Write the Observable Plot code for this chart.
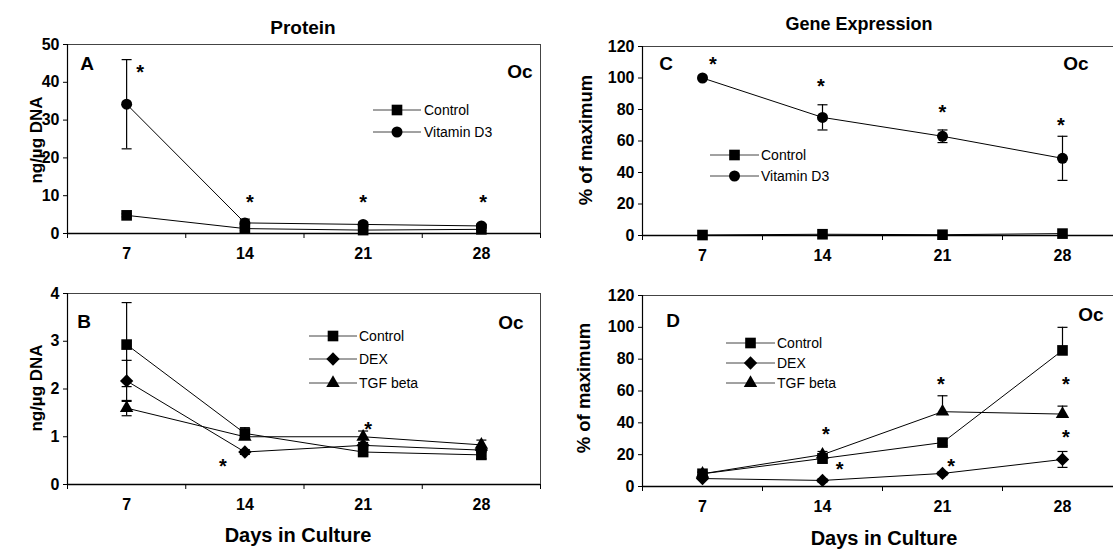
<!DOCTYPE html>
<html><head><meta charset="utf-8">
<script src="https://cdn.jsdelivr.net/npm/d3@7"></script>
<script src="https://cdn.jsdelivr.net/npm/@observablehq/plot@0.6"></script>
<style>
html,body{margin:0;padding:0;background:#fff;overflow:hidden;}
#fig{position:relative;width:1113px;height:550px;overflow:hidden;font-family:Arial,"Liberation Sans",Helvetica,sans-serif;color:#000;}
.abs{position:absolute;white-space:nowrap;line-height:1;}
.ctr{transform:translate(-50%,-50%);}
.rot{transform:translate(-50%,-50%) rotate(-90deg);}
.lft{transform:translate(0,-50%);}
.b{font-weight:bold;}
</style></head><body><div id="fig"></div>
<script>
// ---------- data ----------
const days = [7, 14, 21, 28];
const boundaries = [3.5, 10.5, 17.5, 24.5, 31.5];

// Panel A (Protein, ng/µg DNA)
const aTicks = [0, 10, 20, 30, 40, 50];
const aControl = [4.8, 1.3, 0.9, 1.1];
const aControlErr = [0.4, 0.5, 0.3, 0.3];
const aVitD3 = [34.2, 2.8, 2.4, 2.0];
const aVitD3Err = [11.8, 1.0, 0.6, 0.5];
const aStarDays = [7.8, 14.3, 21.0, 28.1];
const aStarValues = [44, 9.6, 9.6, 9.6];

// Panel B (Protein, ng/µg DNA)
const bTicks = [0, 1, 2, 3, 4];
const bControl = [2.93, 1.07, 0.68, 0.62];
const bControlErr = [0.88, 0.12, 0.06, 0.08];
const bDex = [2.17, 0.68, 0.82, 0.72];
const bDexErr = [0.43, 0.05, 0.05, 0.05];
const bTgf = [1.60, 1.00, 1.00, 0.83];
const bTgfErr = [0.16, 0.05, 0.12, 0.10];
const bStarDays = [12.7, 21.3];
const bStarValues = [0.48, 1.26];

// Panel C (Gene expression, % of maximum)
const cTicks = [0, 20, 40, 60, 80, 100, 120];
const cControl = [0.3, 0.8, 0.5, 1.2];
const cControlErr = [0, 0, 0, 0];
const cVitD3 = [100, 75, 63, 49];
const cVitD3Err = [0, 8, 4, 14];
const cStarDays = [7.6, 13.9, 21.0, 27.9];
const cStarValues = [112, 98, 81, 73];

// Panel D (Gene expression, % of maximum)
const dTicks = [0, 20, 40, 60, 80, 100, 120];
const dControl = [8, 17.6, 27.6, 85.5];
const dControlErrHi = [1, 3, 2, 14.5];
const dControlErrLo = [1, 3, 2, 0];
const dDex = [5, 3.8, 8.2, 17];
const dDexErr = [0.5, 1, 1, 5];
const dTgf = [8, 20, 47, 45.5];
const dTgfErrHi = [1, 2, 10, 5];
const dTgfErrLo = [1, 2, 0, 0];
const dStarDays = [14.2, 15.0, 20.9, 21.5, 28.2, 28.2];
const dStarValues = [36, 13.5, 67, 15.6, 67, 34];

// ---------- styles ----------
const symbolOf = {"Control": "square", "Vitamin D3": "circle", "DEX": "diamond2", "TGF beta": "triangle"};
const d3SymbolOf = {"Control": d3.symbolSquare, "Vitamin D3": d3.symbolCircle, "DEX": d3.symbolDiamond2, "TGF beta": d3.symbolTriangle};
const radiusOf = {"Control": 6, "Vitamin D3": 5.5, "DEX": 6, "TGF beta": 5};
const cap = {draw(ctx) { ctx.moveTo(-5, 0); ctx.lineTo(5, 0); }};
const FONT = 'Arial, "Liberation Sans", Helvetica, sans-serif';

const panels = [
  {left: 0, top: 0, width: 556, height: 263, mt: 44, mr: 16, mb: 30, ml: 67, yDomain: [0, 50], yTicks: aTicks,
   series: [{name: "Control", values: aControl, errHi: aControlErr, errLo: aControlErr},
            {name: "Vitamin D3", values: aVitD3, errHi: aVitD3Err, errLo: aVitD3Err}],
   starDays: aStarDays, starValues: aStarValues},
  {left: 0, top: 263, width: 556, height: 287, mt: 30, mr: 16, mb: 66, ml: 67, yDomain: [0, 4], yTicks: bTicks,
   series: [{name: "Control", values: bControl, errHi: bControlErr, errLo: bControlErr},
            {name: "DEX", values: bDex, errHi: bDexErr, errLo: bDexErr},
            {name: "TGF beta", values: bTgf, errHi: bTgfErr, errLo: bTgfErr}],
   starDays: bStarDays, starValues: bStarValues},
  {left: 556, top: 0, width: 580, height: 263, mt: 46, mr: 14, mb: 28, ml: 86, yDomain: [0, 120], yTicks: cTicks,
   series: [{name: "Control", values: cControl, errHi: cControlErr, errLo: cControlErr},
            {name: "Vitamin D3", values: cVitD3, errHi: cVitD3Err, errLo: cVitD3Err}],
   starDays: cStarDays, starValues: cStarValues},
  {left: 556, top: 263, width: 580, height: 287, mt: 32, mr: 14, mb: 64, ml: 86, yDomain: [0, 120], yTicks: dTicks,
   series: [{name: "Control", values: dControl, errHi: dControlErrHi, errLo: dControlErrLo},
            {name: "DEX", values: dDex, errHi: dDexErr, errLo: dDexErr},
            {name: "TGF beta", values: dTgf, errHi: dTgfErrHi, errLo: dTgfErrLo}],
   starDays: dStarDays, starValues: dStarValues}
];

const fig = document.getElementById("fig");

function drawPanel(p) {
  const rows = p.series.flatMap(s => days.map((d, i) => ({
    name: s.name, day: d, value: s.values[i],
    lo: s.values[i] - s.errLo[i], hi: s.values[i] + s.errHi[i],
    hasLo: s.errLo[i] > 0, hasHi: s.errHi[i] > 0
  })));
  const stars = p.starDays.map((d, i) => ({day: d, value: p.starValues[i]}));
  const svg = Plot.plot({
    width: p.width, height: p.height,
    marginTop: p.mt, marginRight: p.mr, marginBottom: p.mb, marginLeft: p.ml,
    x: {domain: [3.5, 31.5]},
    y: {domain: p.yDomain},
    style: {fontFamily: FONT, background: "transparent", color: "#000", overflow: "visible"},
    marks: [
      Plot.frame({stroke: "#444", strokeWidth: 1}),
      Plot.ruleY([p.yDomain[0]], {stroke: "#000", strokeWidth: 1.4}),
      Plot.ruleX([3.5], {stroke: "#000", strokeWidth: 1.2}),
      Plot.axisY({ticks: p.yTicks, tickFormat: d3.format("d"), tickSize: 4, tickPadding: 4, fontSize: 16, fontWeight: "bold", label: null}),
      Plot.axisX({ticks: days, tickSize: 0, tickPadding: 14, fontSize: 16, fontWeight: "bold", label: null}),
      Plot.axisX({ticks: boundaries, tickSize: 5, tickFormat: () => "", label: null}),
      Plot.ruleX(rows.filter(r => r.hasHi || r.hasLo), {x: "day", y1: "lo", y2: "hi", stroke: "#000", strokeWidth: 1.2}),
      Plot.dot(rows.filter(r => r.hasHi), {x: "day", y: "hi", symbol: cap, stroke: "#000", fill: "none", strokeWidth: 1.2}),
      Plot.dot(rows.filter(r => r.hasLo), {x: "day", y: "lo", symbol: cap, stroke: "#000", fill: "none", strokeWidth: 1.2}),
      Plot.line(rows, {x: "day", y: "value", z: "name", stroke: "#000", strokeWidth: 1}),
      ...p.series.map(s => Plot.dot(rows.filter(r => r.name === s.name),
        {x: "day", y: "value", symbol: symbolOf[s.name], r: radiusOf[s.name], fill: "#000", stroke: "none"})),
      Plot.text(stars, {x: "day", y: "value", text: () => "*", fontSize: 20, fontWeight: "bold", dy: 5})
    ]
  });
  svg.style.position = "absolute";
  svg.style.left = p.left + "px";
  svg.style.top = p.top + "px";
  fig.appendChild(svg);
}
panels.forEach(drawPanel);

// ---------- text ----------
function addText(txt, x, y, cls, size) {
  const el = document.createElement("div");
  el.className = "abs " + cls;
  el.style.left = x + "px";
  el.style.top = y + "px";
  el.style.fontSize = size + "px";
  el.textContent = txt;
  fig.appendChild(el);
}
addText("Protein", 303, 27, "ctr b", 19);
addText("Gene Expression", 859, 24, "ctr b", 18);
addText("ng/µg DNA", 36, 140, "rot b", 17);
addText("ng/µg DNA", 36, 388, "rot b", 17);
addText("% of maximum", 586, 140, "rot b", 18.5);
addText("% of maximum", 584, 388, "rot b", 18.5);
addText("Days in Culture", 298, 535, "ctr b", 20);
addText("Days in Culture", 884, 538, "ctr b", 20);
addText("A", 87, 63, "ctr b", 19);
addText("Oc", 520, 71, "ctr b", 19);
addText("B", 84, 321, "ctr b", 19);
addText("Oc", 511, 322, "ctr b", 19);
addText("C", 666, 63, "ctr b", 19);
addText("Oc", 1076, 63, "ctr b", 19);
addText("D", 673, 320, "ctr b", 19);
addText("Oc", 1091, 314, "ctr b", 19);

// ---------- legends ----------
function addLegend(names, x0, x1, tx, ys) {
  names.forEach((name, i) => {
    const y = ys[i];
    const w = x1 - x0;
    const svg = d3.create("svg").attr("width", w).attr("height", 20)
      .style("position", "absolute").style("left", x0 + "px").style("top", (y - 10) + "px");
    svg.append("line").attr("x1", 0).attr("x2", w).attr("y1", 10).attr("y2", 10).attr("stroke", "#444").attr("stroke-width", 1);
    const r = radiusOf[name];
    svg.append("path").attr("transform", `translate(${w / 2},10)`)
      .attr("d", d3.symbol().type(d3SymbolOf[name]).size(Math.PI * r * r)()).attr("fill", "#000");
    fig.appendChild(svg.node());
    addText(name, tx, y, "lft", 14);
  });
}
addLegend(["Control", "Vitamin D3"], 373, 421, 424, [110, 132]);
addLegend(["Control", "DEX", "TGF beta"], 309, 357, 359, [336, 359, 383]);
addLegend(["Control", "Vitamin D3"], 710, 759, 761, [155, 176]);
addLegend(["Control", "DEX", "TGF beta"], 726, 775, 777, [343, 363, 383]);
</script></body></html>
